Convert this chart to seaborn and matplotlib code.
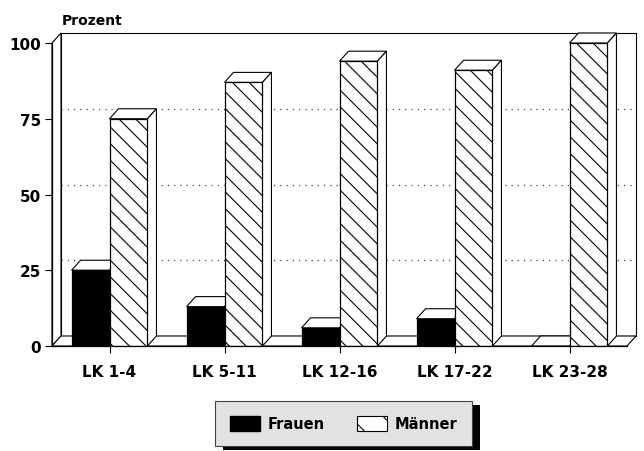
import numpy as np
import pandas as pd
import matplotlib
matplotlib.use("Agg")
import matplotlib.pyplot as plt
from matplotlib.patches import Polygon, Rectangle
import seaborn as sns

# values (Prozent)
categories = ["LK 1-4", "LK 5-11", "LK 12-16", "LK 17-22", "LK 23-28"]
frauen = [25, 13, 6, 9, 0]
maenner = [75, 87, 94, 91, 100]
yticks = [0, 25, 50, 75, 100]

df = pd.DataFrame({
    "gruppe": categories * 2,
    "prozent": frauen + maenner,
    "geschlecht": ["Frauen"] * len(categories) + ["Männer"] * len(categories),
})

sns.set_style("white")
plt.rcParams["font.family"] = ["DejaVu Sans"]
plt.rcParams["hatch.linewidth"] = 0.8
plt.rcParams["text.color"] = "black"
plt.rcParams["xtick.color"] = "black"
plt.rcParams["ytick.color"] = "black"

fig = plt.figure(figsize=(6.44, 4.52), dpi=100)
W, H = 644, 452
ax = fig.add_axes([52 / W, (H - 347) / H, 575 / W, 303 / H])

sns.barplot(data=df, x="gruppe", y="prozent", hue="geschlecht",
            palette={"Frauen": "black", "Männer": "white"},
            width=0.66, edgecolor="black", linewidth=0.9,
            legend=False, ax=ax, zorder=3)

ax.set_xlim(-0.5, len(categories) - 0.5)
ax.set_ylim(0, 100)

# depth offset of the pseudo-3D look
dx = 9 / 115
dy = 10 / 3.03

for p in ax.patches:
    if p.get_facecolor()[0] > 0.5:
        p.set_hatch("\\\\")

line_kw = dict(edgecolor="black", linewidth=0.8, clip_on=False)
x0, x1 = -0.5, len(categories) - 0.5

# back wall, left wall, floor
ax.add_patch(Rectangle((x0 + dx, dy), x1 - x0, 100, facecolor="white", zorder=0.5, **line_kw))
ax.add_patch(Polygon([(x0, 0), (x0, 100), (x0 + dx, 100 + dy), (x0 + dx, dy)],
                     facecolor="white", zorder=0.6, **line_kw))
ax.add_patch(Polygon([(x0, 0), (x1, 0), (x1 + dx, dy), (x0 + dx, dy)],
                     facecolor="white", zorder=0.6, **line_kw))
for t in yticks[1:-1]:
    ax.plot([x0 + dx, x1 + dx], [t + dy, t + dy], ls=(0, (1, 4)), color="#444444",
            lw=0.9, zorder=0.7, clip_on=False)

# top and side faces of every bar
for p in list(ax.patches):
    if not hasattr(p, "get_width") or p.get_zorder() != 3:
        continue
    bx, bw, bh = p.get_x(), p.get_width(), p.get_height()
    top = [(bx, bh), (bx + bw, bh), (bx + bw + dx, bh + dy), (bx + dx, bh + dy)]
    side = [(bx + bw, 0), (bx + bw, bh), (bx + bw + dx, bh + dy), (bx + bw + dx, dy)]
    ax.add_patch(Polygon(top, facecolor="white", zorder=2, **line_kw))
    ax.add_patch(Polygon(side, facecolor="white", zorder=2, **line_kw))

sns.despine(ax=ax, top=True, right=True)
ax.spines["left"].set_linewidth(0.9)
ax.spines["bottom"].set_linewidth(0.9)
ax.spines["left"].set_color("black")
ax.spines["bottom"].set_color("black")
ax.spines["left"].set_zorder(4)
ax.spines["bottom"].set_zorder(4)
ax.set_yticks(yticks)
ax.set_yticklabels([str(t) for t in yticks], fontsize=11, fontweight="bold", color="black")
ax.set_xticks(range(len(categories)))
ax.set_xticklabels(categories, fontsize=11, fontweight="bold", color="black")
ax.tick_params(axis="both", direction="out", length=5, width=0.8, color="black",
               left=True, bottom=True)
ax.tick_params(axis="y", pad=3)
ax.tick_params(axis="x", pad=8)
ax.set_xlabel("")
ax.set_ylabel("")
fig.text(62 / W, 1 - 21 / H, "Prozent", fontsize=10, fontweight="bold", va="center",
         ha="left", color="black")

# legend box with dark shadow
lx0, ly0, lx1, ly1 = 215, 402, 472, 447
fig.patches.append(Rectangle(((lx0 + 8) / W, 1 - (ly1 + 4) / H), (lx1 - lx0) / W, (ly1 - ly0) / H,
                             transform=fig.transFigure, facecolor="black", edgecolor="none", zorder=1))
fig.patches.append(Rectangle((lx0 / W, 1 - ly1 / H), (lx1 - lx0) / W, (ly1 - ly0) / H,
                             transform=fig.transFigure, facecolor="#e2e2e2", edgecolor="#444444",
                             linewidth=0.8, zorder=2))
handles = [Rectangle((0, 0), 1, 1, facecolor="black", edgecolor="black"),
           Rectangle((0, 0), 1, 1, facecolor="white", edgecolor="black", hatch="\\", linewidth=0.8)]
leg = fig.legend(handles, ["Frauen", "Männer"], ncol=2, frameon=False,
                 loc="center", bbox_to_anchor=((lx0 + lx1) / 2 / W, 1 - (ly0 + ly1) / 2 / H),
                 prop={"size": 10.5, "weight": "bold"}, handlelength=2.1, handleheight=1.2,
                 handletextpad=0.5, columnspacing=2.2, labelcolor="black")
leg.set_zorder(3)

fig.savefig("out.png", dpi=100)
